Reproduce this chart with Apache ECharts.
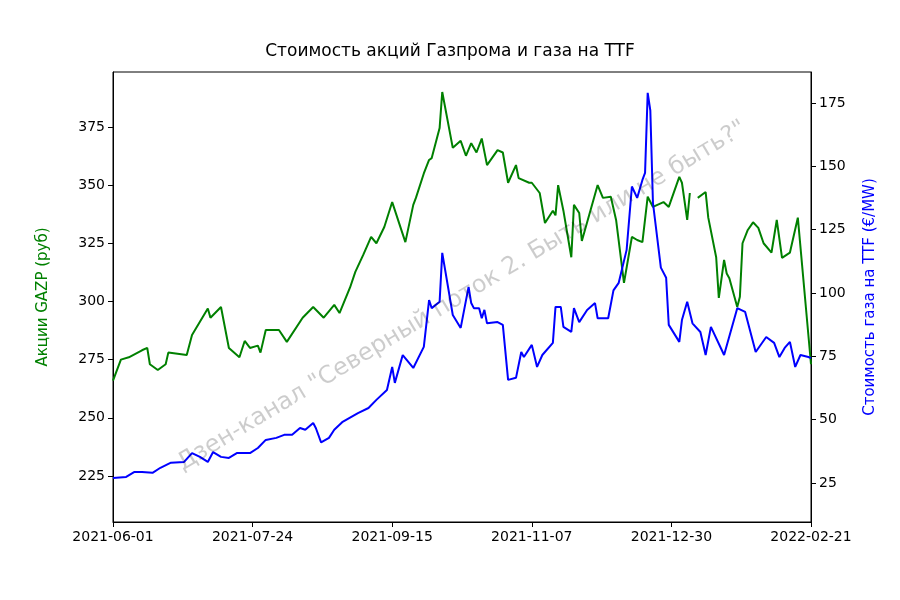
<!DOCTYPE html>
<html>
<head>
<meta charset="utf-8">
<title>Газпром и TTF</title>
<script src="https://cdn.jsdelivr.net/npm/echarts@6/dist/echarts.min.js"></script>
</head>
<body style="margin:0;background:#fff">
<div id="main" style="width:900px;height:600px;"></div>
<script>
// дни от 2021-06-01
var gazpDays = [0,3,6,11,13,14,17,20,21,28,30,36,37,41,44,48,50,52,55,56,58,63,66,72,76,80,84,86,90,92,95,98,100,103,106,111,114,115,118,120,121,124,125,129,132,134,136,138,140,142,146,148,150,153,154,158,159,162,164,167,168,169,171,174,175,177,178,181,184,186,189,191,194,197,199,201,203,205,209,211,215,216,218,219,220.5,222,225,226,229,230,232,233,234,237,238,239,241,243,245,247,250,252,254,257,260,265];
var gazpValues = [266,275,276,279,280,273,270.5,273,278,277,285.6,297,293,297.6,280,276,283,280,281,278,287.7,287.7,282.6,293,297.6,293,298.5,295,306,312.7,320,327.7,325,332,342.7,325.5,341.5,344.5,355,360.8,361.6,374.5,390,366,369,362.6,368,364,370,358.6,365,364,351,358.6,353,351,351,346.6,333.7,339,337,350,339,319,341.5,338,326,338,350,344.5,345,335,308,327.7,326.4,325.5,345,340.6,342.7,340.6,353.5,351,335,346.6,null,344.5,347,336,319,301.5,317.8,312,310,297.6,302,325,330.7,334,331.6,325,321,335,318.7,321,336,273];
var ttfDays = [0,5,8,11,15,18,22,27,30,33,36,38,41,44,47,52,55,58,62,65,68,71,73,76,77,79,82,84,87,93,97,100,104,106,107,110,114,118,120,121,124,125,129,132,135,136,137,139,140,141,142,146,148,150,153,155,156,159,161,163,167,168,170,171,174,175,177,180,183,184,188,190,192,195,197,199,201,202,203,204,205,208,210,211,215,216,218,220,223,225,227,232,237,240,244,248,251,253,255,257,259,261,264,265];
var ttfValues = [27,27.4,29.3,29.3,29,31,33,33.3,36.8,35.3,33.3,37.2,35.3,34.9,36.8,36.8,38.8,42,42.8,44,44,46.7,46,48.7,46.7,41,42.8,46,49,52.6,54.6,57.8,61.7,70.8,64.5,75.5,70.4,78.7,97.2,94,96.5,115.8,91.3,86.2,102.4,96,94,94,90,93.3,88,88.5,87.4,65.7,66.5,76.7,74.7,79.5,70.8,75.5,80.3,94.5,94.5,86.6,84.6,94,88.5,93.3,96,90,90,101,104,117,142,137.5,144.6,147.4,179,172,135.5,110,106,87.4,80.7,89.3,96.5,88,84.6,75.5,86.6,75.5,94,92.5,76.7,82.6,80.3,74.7,78.3,80.7,70.8,75.5,74.7,74.3];
var leftTicks = [225,250,275,300,325,350,375];
var rightTicks = [25,50,75,100,125,150,175];

function pairs(xs, ys) { return xs.map(function (x, i) { return [x, ys[i]]; }); }
function dayLabel(d) {
    var t = new Date(Date.UTC(2021, 5, 1) + d * 86400000);
    return t.toISOString().slice(0, 10);
}
var font = 'DejaVu Sans';
var chart = echarts.init(document.getElementById('main'));
chart.setOption({
    animation: false,
    textStyle: { fontFamily: font },
    title: { text: 'Стоимость акций Газпрома и газа на TTF', left: 'center', top: 38,
        textStyle: { fontFamily: font, fontSize: 17, fontWeight: 'normal', color: '#000' } },
    grid: { left: 113, right: 89, top: 72, bottom: 78, show: true, borderColor: '#000', borderWidth: 1 },
    xAxis: { type: 'value', min: 0, max: 265, interval: 53,
        axisLine: { lineStyle: { color: '#000' } },
        axisTick: { inside: false, length: 5, lineStyle: { color: '#000' } },
        splitLine: { show: false },
        axisLabel: { color: '#000', fontSize: 14, margin: 8, formatter: dayLabel } },
    yAxis: [{
        type: 'value', min: 205.2, max: 398.6, position: 'left',
        name: 'Акции GAZP (руб)', nameLocation: 'middle', nameGap: 62, nameRotate: 90,
        nameTextStyle: { color: 'green', fontSize: 15, fontFamily: font },
        axisLine: { show: true, lineStyle: { color: '#000' } },
        axisTick: { show: true, length: 5, customValues: leftTicks, lineStyle: { color: '#000' } },
        axisLabel: { color: '#000', fontSize: 14, customValues: leftTicks },
        splitLine: { show: false }
    }, {
        type: 'value', min: 9.6, max: 187.2, position: 'right',
        name: 'Стоимость газа на TTF (€/MW)', nameLocation: 'middle', nameGap: 52, nameRotate: 90,
        nameTextStyle: { color: 'blue', fontSize: 15, fontFamily: font },
        axisLine: { show: true, lineStyle: { color: '#000' } },
        axisTick: { show: true, length: 5, customValues: rightTicks, lineStyle: { color: '#000' } },
        axisLabel: { color: '#000', fontSize: 14, customValues: rightTicks },
        splitLine: { show: false }
    }],
    graphic: [{
        type: 'text', rotation: 0.54,
        x: 462, y: 296,
        style: { text: 'Дзен-канал "Северный поток 2. Быть или не быть?"', fill: 'rgba(0,0,0,0.2)',
            font: '24px "DejaVu Sans"', align: 'center', verticalAlign: 'middle' },
        z: 100
    }],
    series: [{
        type: 'line', yAxisIndex: 0, data: pairs(gazpDays, gazpValues), showSymbol: false,
        lineStyle: { color: 'green', width: 2 }, itemStyle: { color: 'green' }
    }, {
        type: 'line', yAxisIndex: 1, data: pairs(ttfDays, ttfValues), showSymbol: false,
        lineStyle: { color: 'blue', width: 2 }, itemStyle: { color: 'blue' }
    }]
});
</script>
</body>
</html>
